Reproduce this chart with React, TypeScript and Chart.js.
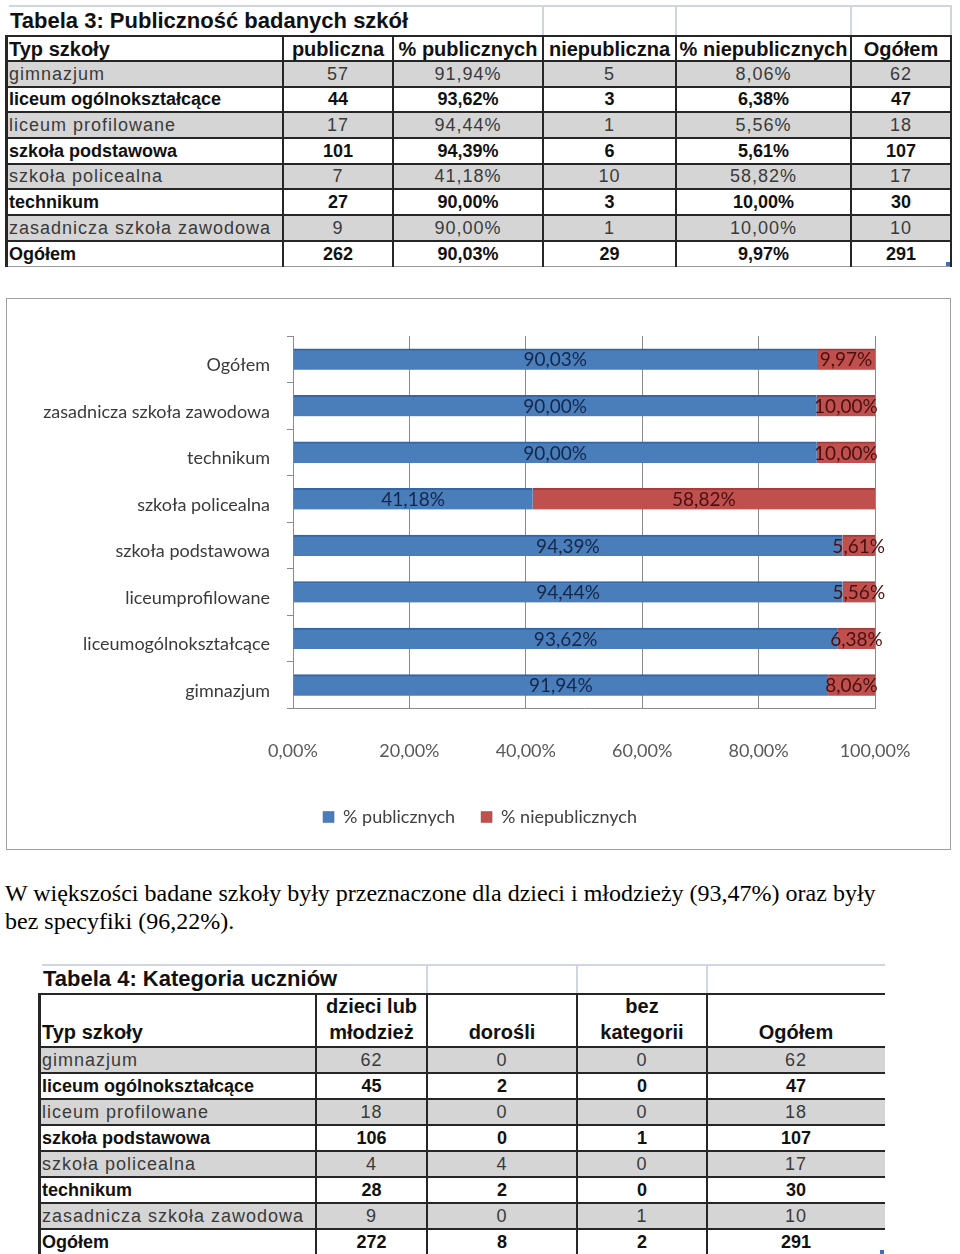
import React, { useEffect, useRef } from 'react';
import { Chart, registerables } from 'chart.js';

Chart.register(...registerables);

// ---------- DATA ----------
const schoolTypes = [
  'gimnazjum',
  'liceum ogólnokształcące',
  'liceum profilowane',
  'szkoła podstawowa',
  'szkoła policealna',
  'technikum',
  'zasadnicza szkoła zawodowa',
  'Ogółem',
];
const chartCategories = [
  'gimnazjum',
  'liceumogólnokształcące',
  'liceumprofilowane',
  'szkoła podstawowa',
  'szkoła policealna',
  'technikum',
  'zasadnicza szkoła zawodowa',
  'Ogółem',
];
const publicCount = [57, 44, 17, 101, 7, 27, 9, 262];
const pctPublic = [91.94, 93.62, 94.44, 94.39, 41.18, 90.0, 90.0, 90.03];
const nonPublicCount = [5, 3, 1, 6, 10, 3, 1, 29];
const pctNonPublic = [8.06, 6.38, 5.56, 5.61, 58.82, 10.0, 10.0, 9.97];
const totalCount = [62, 47, 18, 107, 17, 30, 10, 291];
const seriesNames = ['% publicznych', '% niepublicznych'];
const xTickStep = 20;

const youthCount = [62, 45, 18, 106, 4, 28, 9, 272];
const adultCount = [0, 2, 0, 0, 4, 2, 0, 8];
const noCategoryCount = [0, 0, 0, 1, 0, 0, 1, 2];

const table3Title = 'Tabela 3: Publiczność badanych szkół';
const table3Headers = ['Typ szkoły', 'publiczna', '% publicznych', 'niepubliczna', '% niepublicznych', 'Ogółem'];
const table4Title = 'Tabela 4: Kategoria uczniów';
const table4Headers = ['Typ szkoły', 'dzieci lub\nmłodzież', 'dorośli', 'bez\nkategorii', 'Ogółem'];
const paragraphLines = [
  'W większości badane szkoły były przeznaczone dla dzieci i młodzieży (93,47%) oraz były',
  'bez specyfiki (96,22%).',
];

const fmtPct = (v: number) => v.toFixed(2).replace('.', ',') + '%';

// ---------- TABLE ----------
type TableCfg = {
  cols: number[];
  titleTop: number;
  headTop: number;
  rowTops: number[];
  title: string;
  headers: string[];
  headerValign: 'center' | 'flex-end';
  rows: string[][];
  rightBorder: boolean;
  lightCols: number[];
};

const FONT = '"Liberation Sans", Arial, sans-serif';
const DARK = '#262626';
const LIGHT = '#cfd6e2';

function GridTable({ cfg }: { cfg: TableCfg }) {
  const { cols, titleTop, headTop, rowTops, title, headers, rows } = cfg;
  const left = cols[0];
  const right = cols[cols.length - 1];
  const bottom = rowTops[rowTops.length - 1];
  const els: React.ReactNode[] = [];
  els.push(
    <div key="tl" style={{ position: 'absolute', left: left + 4, top: titleTop, width: right - left - 4, height: 2, background: LIGHT }} />
  );
  cfg.lightCols.forEach((x, i) =>
    els.push(
      <div key={'lc' + i} style={{ position: 'absolute', left: x - 1, top: titleTop, width: 2, height: headTop - titleTop, background: LIGHT }} />
    )
  );
  els.push(
    <div
      key="title"
      style={{
        position: 'absolute', left: left + 5, top: titleTop, height: headTop - titleTop,
        display: 'flex', alignItems: 'center', font: `bold 22px ${FONT}`, color: '#111', whiteSpace: 'nowrap',
      }}
    >
      {title}
    </div>
  );
  rows.forEach((_, r) => {
    const grey = r % 2 === 0;
    els.push(
      <div key={'bg' + r} style={{ position: 'absolute', left, top: rowTops[r], width: right - left, height: rowTops[r + 1] - rowTops[r], background: grey ? '#d5d5d5' : '#fff' }} />
    );
  });
  headers.forEach((h, c) => {
    els.push(
      <div
        key={'h' + c}
        style={{
          position: 'absolute', left: cols[c] + 4, top: headTop + 2, width: cols[c + 1] - cols[c] - 8, height: rowTops[0] - headTop - 4,
          display: 'flex', flexDirection: 'column', justifyContent: cfg.headerValign,
          alignItems: c === 0 ? 'flex-start' : 'center', textAlign: c === 0 ? 'left' : 'center',
          font: `bold 20px ${FONT}`, lineHeight: '26px', color: '#111', whiteSpace: 'pre',
        }}
      >
        {h}
      </div>
    );
  });
  rows.forEach((row, r) => {
    const bold = r % 2 === 1;
    row.forEach((t, c) => {
      els.push(
        <div
          key={'c' + r + '_' + c}
          style={{
            position: 'absolute', left: cols[c] + 4, top: rowTops[r], width: cols[c + 1] - cols[c] - 8, height: rowTops[r + 1] - rowTops[r],
            display: 'flex', alignItems: 'center', justifyContent: c === 0 ? 'flex-start' : 'center',
            font: `${bold ? 'bold ' : ''}18px ${FONT}`, letterSpacing: bold ? '0px' : '1px',
            color: bold ? '#111' : '#3a3a3a', whiteSpace: 'nowrap',
          }}
        >
          {t}
        </div>
      );
    });
  });
  [headTop, ...rowTops.slice(0, rowTops.length - 1)].forEach((y, i) =>
    els.push(<div key={'hl' + i} style={{ position: 'absolute', left, top: y - 1, width: right - left, height: 2, background: DARK }} />)
  );
  els.push(<div key="hlb" style={{ position: 'absolute', left, top: bottom - 1, width: right - left, height: 1, background: '#9a9a9a' }} />);
  const vx = cfg.rightBorder ? cols : cols.slice(0, cols.length - 1);
  vx.forEach((x, i) =>
    els.push(
      <div key={'vl' + i} style={{ position: 'absolute', left: x - (i === 0 ? 0 : 1), top: headTop - 1, width: i === 0 ? 3 : 2, height: bottom - headTop + 1, background: DARK }} />
    )
  );
  els.push(<div key="corner" style={{ position: 'absolute', left: right - 5, top: bottom - 5, width: 4, height: 4, background: '#3d6fc0' }} />);
  return <>{els}</>;
}

// ---------- CHART ----------
function BarChart() {
  const ref = useRef<HTMLCanvasElement>(null);
  useEffect(() => {
    if (!ref.current) return;
    const labelPlugin = {
      id: 'segLabels',
      afterLayout(chart: any) {
        const lg = chart.legend;
        if (lg) {
          lg.left += 39;
          lg.right += 39;
        }
      },
      afterDatasetsDraw(chart: any) {
        const ctx = chart.ctx;
        ctx.save();
        ctx.font = '19px Lato';
        ctx.textAlign = 'center';
        ctx.textBaseline = 'middle';
        chart.data.datasets.forEach((ds: any, di: number) => {
          const meta = chart.getDatasetMeta(di);
          meta.data.forEach((el: any, i: number) => {
            const x = (el.x + el.base) / 2;
            ctx.fillStyle = di === 0 ? '#15274a' : '#4a1010';
            ctx.fillText(fmtPct(ds.data[i]), x, el.y + 1);
          });
        });
        ctx.restore();
      },
    };
    const chart = new Chart(ref.current, {
      type: 'bar',
      data: {
        labels: chartCategories,
        datasets: [
          {
            label: seriesNames[0], data: pctPublic, backgroundColor: '#4a7ebb',
            borderColor: '#3566a3', borderWidth: { top: 2, right: 0, bottom: 0, left: 0 }, barThickness: 21,
          },
          {
            label: seriesNames[1], data: pctNonPublic, backgroundColor: '#c0504d',
            borderColor: '#a23f3c', borderWidth: { top: 2, right: 0, bottom: 0, left: 0 }, barThickness: 21,
          },
        ],
      },
      options: {
        indexAxis: 'y',
        responsive: false,
        animation: false,
        layout: { padding: { left: 0, right: 75, top: 37, bottom: 13 } },
        plugins: {
          tooltip: { enabled: false },
          legend: {
            position: 'bottom',
            labels: { boxWidth: 11, boxHeight: 11, padding: 26, color: '#404040', font: { family: 'Lato', size: 18 } },
          },
        },
        scales: {
          x: {
            stacked: true,
            min: 0,
            max: 100,
            ticks: { stepSize: xTickStep, callback: (v: any) => fmtPct(Number(v)), color: '#595959', font: { family: 'Lato', size: 18 }, padding: 20, maxRotation: 0 },
            grid: { color: '#8a8a8a', drawTicks: true, tickLength: 12, tickColor: 'rgba(0,0,0,0)' },
            border: { color: '#8a8a8a' },
          },
          y: {
            stacked: true,
            reverse: true,
            ticks: { color: '#3a3a3a', font: { family: 'Lato', size: 18 }, padding: 17, labelOffset: 6 },
            grid: { drawOnChartArea: false, drawTicks: true, tickLength: 6, color: '#8a8a8a', offset: true },
            border: { color: '#8a8a8a' },
            afterFit: (scale: any) => { scale.width = 286; },
          },
        },
      },
      plugins: [labelPlugin],
    } as any);
    return () => chart.destroy();
  }, []);
  return <canvas ref={ref} width={943} height={550} style={{ display: 'block' }} />;
}

// ---------- APP ----------
export default function App() {
  const t3Rows = schoolTypes.map((s, i) => [
    s, String(publicCount[i]), fmtPct(pctPublic[i]), String(nonPublicCount[i]), fmtPct(pctNonPublic[i]), String(totalCount[i]),
  ]);
  const t4Rows = schoolTypes.map((s, i) => [
    s, String(youthCount[i]), String(adultCount[i]), String(noCategoryCount[i]), String(totalCount[i]),
  ]);
  const t3: TableCfg = {
    cols: [5, 283, 393, 543, 676, 851, 951],
    titleTop: 5,
    headTop: 36,
    rowTops: [61, 87, 112, 138, 164, 189, 215, 241, 267],
    title: table3Title,
    headers: table3Headers,
    headerValign: 'center',
    rows: t3Rows,
    rightBorder: true,
    lightCols: [543, 676, 851, 951],
  };
  const t4: TableCfg = {
    cols: [38, 316, 427, 577, 707, 885],
    titleTop: 964,
    headTop: 994,
    rowTops: [1047, 1073, 1099, 1125, 1151, 1177, 1203, 1229, 1255],
    title: table4Title,
    headers: table4Headers,
    headerValign: 'flex-end',
    rows: t4Rows,
    rightBorder: false,
    lightCols: [427, 577, 707],
  };
  return (
    <div style={{ position: 'absolute', left: 0, top: 0, width: 960, height: 1254, overflow: 'hidden', background: '#fff' }}>
      <GridTable cfg={t3} />
      <div style={{ position: 'absolute', left: 6, top: 298, width: 943, height: 550, border: '1px solid #a0a0a0' }}>
        <BarChart />
      </div>
      <div style={{ position: 'absolute', left: 5, top: 879, font: '24px "Liberation Serif", "Times New Roman", serif', lineHeight: '28px', color: '#000', whiteSpace: 'nowrap' }}>
        {paragraphLines.map((l, i) => (
          <div key={i}>{l}</div>
        ))}
      </div>
      <GridTable cfg={t4} />
    </div>
  );
}
